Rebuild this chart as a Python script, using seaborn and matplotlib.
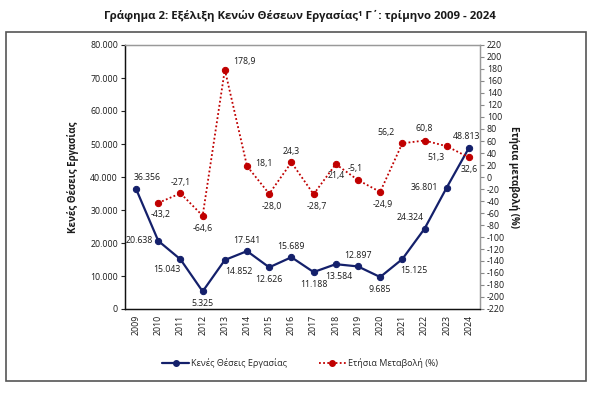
import numpy as np
import pandas as pd
import matplotlib
matplotlib.use('Agg')
import matplotlib.pyplot as plt
import seaborn as sns
from matplotlib.patches import Rectangle
from matplotlib.lines import Line2D

# data
years = ['2009', '2010', '2011', '2012', '2013', '2014', '2015', '2016',
         '2017', '2018', '2019', '2020', '2021', '2022', '2023', '2024']
vacancies = [36356, 20638, 15043, 5325, 14852, 17541, 12626, 15689,
             11188, 13584, 12897, 9685, 15125, 24324, 36801, 48813]
change_pct = [np.nan, -43.2, -27.1, -64.6, 178.9, 18.1, -28.0, 24.3,
              -28.7, 21.4, -5.1, -24.9, 56.2, 60.8, 51.3, 32.6]

df = pd.DataFrame({'year': years, 'vac': vacancies, 'chg': change_pct})
df['x'] = range(len(df))

sns.set_style('white')
plt.rcParams['font.family'] = ['Open Sans', 'DejaVu Sans']
plt.rcParams['axes.unicode_minus'] = False

navy = '#14206B'
red = '#C00000'
txt = '#1a1a1a'

fig = plt.figure(figsize=(6, 3.97), dpi=100)
ax = fig.add_axes([125 / 600, 1 - 309 / 397, 355 / 600, 264 / 397])
ax2 = ax.twinx()

# outer frame
fig.patches.append(Rectangle((6 / 600, 1 - 381 / 397), 580 / 600, 349 / 397,
                             transform=fig.transFigure, fill=False,
                             edgecolor='#555555', linewidth=1.2))

fig.text(0.5, 1 - 16 / 397,
         'Γράφημα 2: Εξέλιξη Κενών Θέσεων Εργασίας¹ Γ΄: τρίμηνο 2009 - 2024',
         ha='center', va='center', fontsize=8.2, fontweight='bold', color=txt)

# left: vacancies
sns.lineplot(data=df, x='x', y='vac', ax=ax, color=navy, linewidth=1.6,
             marker='o', markersize=4.5, markeredgecolor=navy, legend=False)
# right: annual change
sns.lineplot(data=df.dropna(), x='x', y='chg', ax=ax2, color=red, linewidth=1.3,
             linestyle=(0, (1, 1.3)), marker='o', markersize=4.5,
             markeredgecolor=red, legend=False)

ax.set_xlim(-0.5, len(years) - 0.5)
ax.set_ylim(0, 80000)
ax.set_yticks(np.arange(0, 80001, 10000))
ax.set_yticklabels(['0'] + [f'{v:,}'.replace(',', '.') for v in range(10000, 80001, 10000)],
                   fontsize=6.3, color=txt)
ax.set_xticks(df['x'])
ax.set_xticklabels(years, rotation=90, fontsize=6.3, color=txt)
ax.set_xticks(np.arange(-0.5, len(years), 1), minor=True)
ax.tick_params(axis='x', which='major', length=0, pad=4)
ax.tick_params(axis='x', which='minor', length=4, width=0.8, color='#222222', direction='out')
ax.tick_params(axis='y', length=3, width=0.8, color='#222222', pad=2, left=True)
ax.set_xlabel('')
ax.set_ylabel('Κενές Θέσεις Εργασίας', fontsize=7, fontweight='bold', color=txt, labelpad=8)

ax2.set_ylim(-220, 220)
ax2.set_yticks(np.arange(-220, 221, 20))
ax2.set_yticklabels([str(v) for v in range(-220, 221, 20)], fontsize=6.3, color=txt)
ax2.tick_params(axis='y', length=3, width=0.8, color='#888888', pad=2, right=True)
ax2.set_ylabel('Ετήσια μεταβολή (%)', fontsize=7, fontweight='bold', color=txt,
               rotation=270, labelpad=10)

for a in (ax, ax2):
    a.spines['left'].set_color('#111111')
    a.spines['bottom'].set_color('#111111')
    a.spines['right'].set_color('#999999')
    a.spines['top'].set_color('#999999')
    for s in a.spines.values():
        s.set_linewidth(0.9)

# value labels (offsets in points, alignment)
vac_off = [(8, 8, 'center'), (-4, 0, 'right'), (-10, -7, 'center'), (0, -9, 'center'),
           (10, -8, 'center'), (0, 8, 'center'), (0, -9, 'center'), (0, 8, 'center'),
           (0, -9, 'center'), (2, -9, 'center'), (0, 8, 'center'), (0, -9, 'center'),
           (8, -8, 'center'), (-10, 8, 'center'), (-6, 0, 'right'), (-2, 8, 'center')]
chg_off = [None, (2, -8), (0, 8), (0, -9), (14, 6), (12, 2), (2, -9), (0, 8),
           (2, -9), (0, -8), (-2, 8), (2, -9), (-12, 8), (0, 9), (-8, -8), (0, -9)]

for i, v in enumerate(vacancies):
    dx, dy, ha = vac_off[i]
    ax.annotate(f'{v:,}'.replace(',', '.'), (i, v), xytext=(dx, dy),
                textcoords='offset points', ha=ha, va='center', fontsize=6.3, color=txt)
for i, c in enumerate(change_pct):
    if chg_off[i] is None:
        continue
    dx, dy = chg_off[i]
    ax2.annotate(f'{c:.1f}'.replace('.', ','), (i, c), xytext=(dx, dy),
                 textcoords='offset points', ha='center', va='center',
                 fontsize=6.3, color=txt)

handles = [Line2D([], [], color=navy, linewidth=1.6, marker='o', markersize=4),
           Line2D([], [], color=red, linewidth=1.3, linestyle=(0, (1, 1.3)),
                  marker='o', markersize=4)]
fig.legend(handles, ['Κενές Θέσεις Εργασίας', 'Ετήσια Μεταβολή (%)'],
           loc='center', bbox_to_anchor=(0.5, 1 - 363 / 397), ncol=2, frameon=False,
           fontsize=6.5, handlelength=3.0, columnspacing=3.5, handletextpad=0.2)

fig.savefig('out.png', dpi=100)
